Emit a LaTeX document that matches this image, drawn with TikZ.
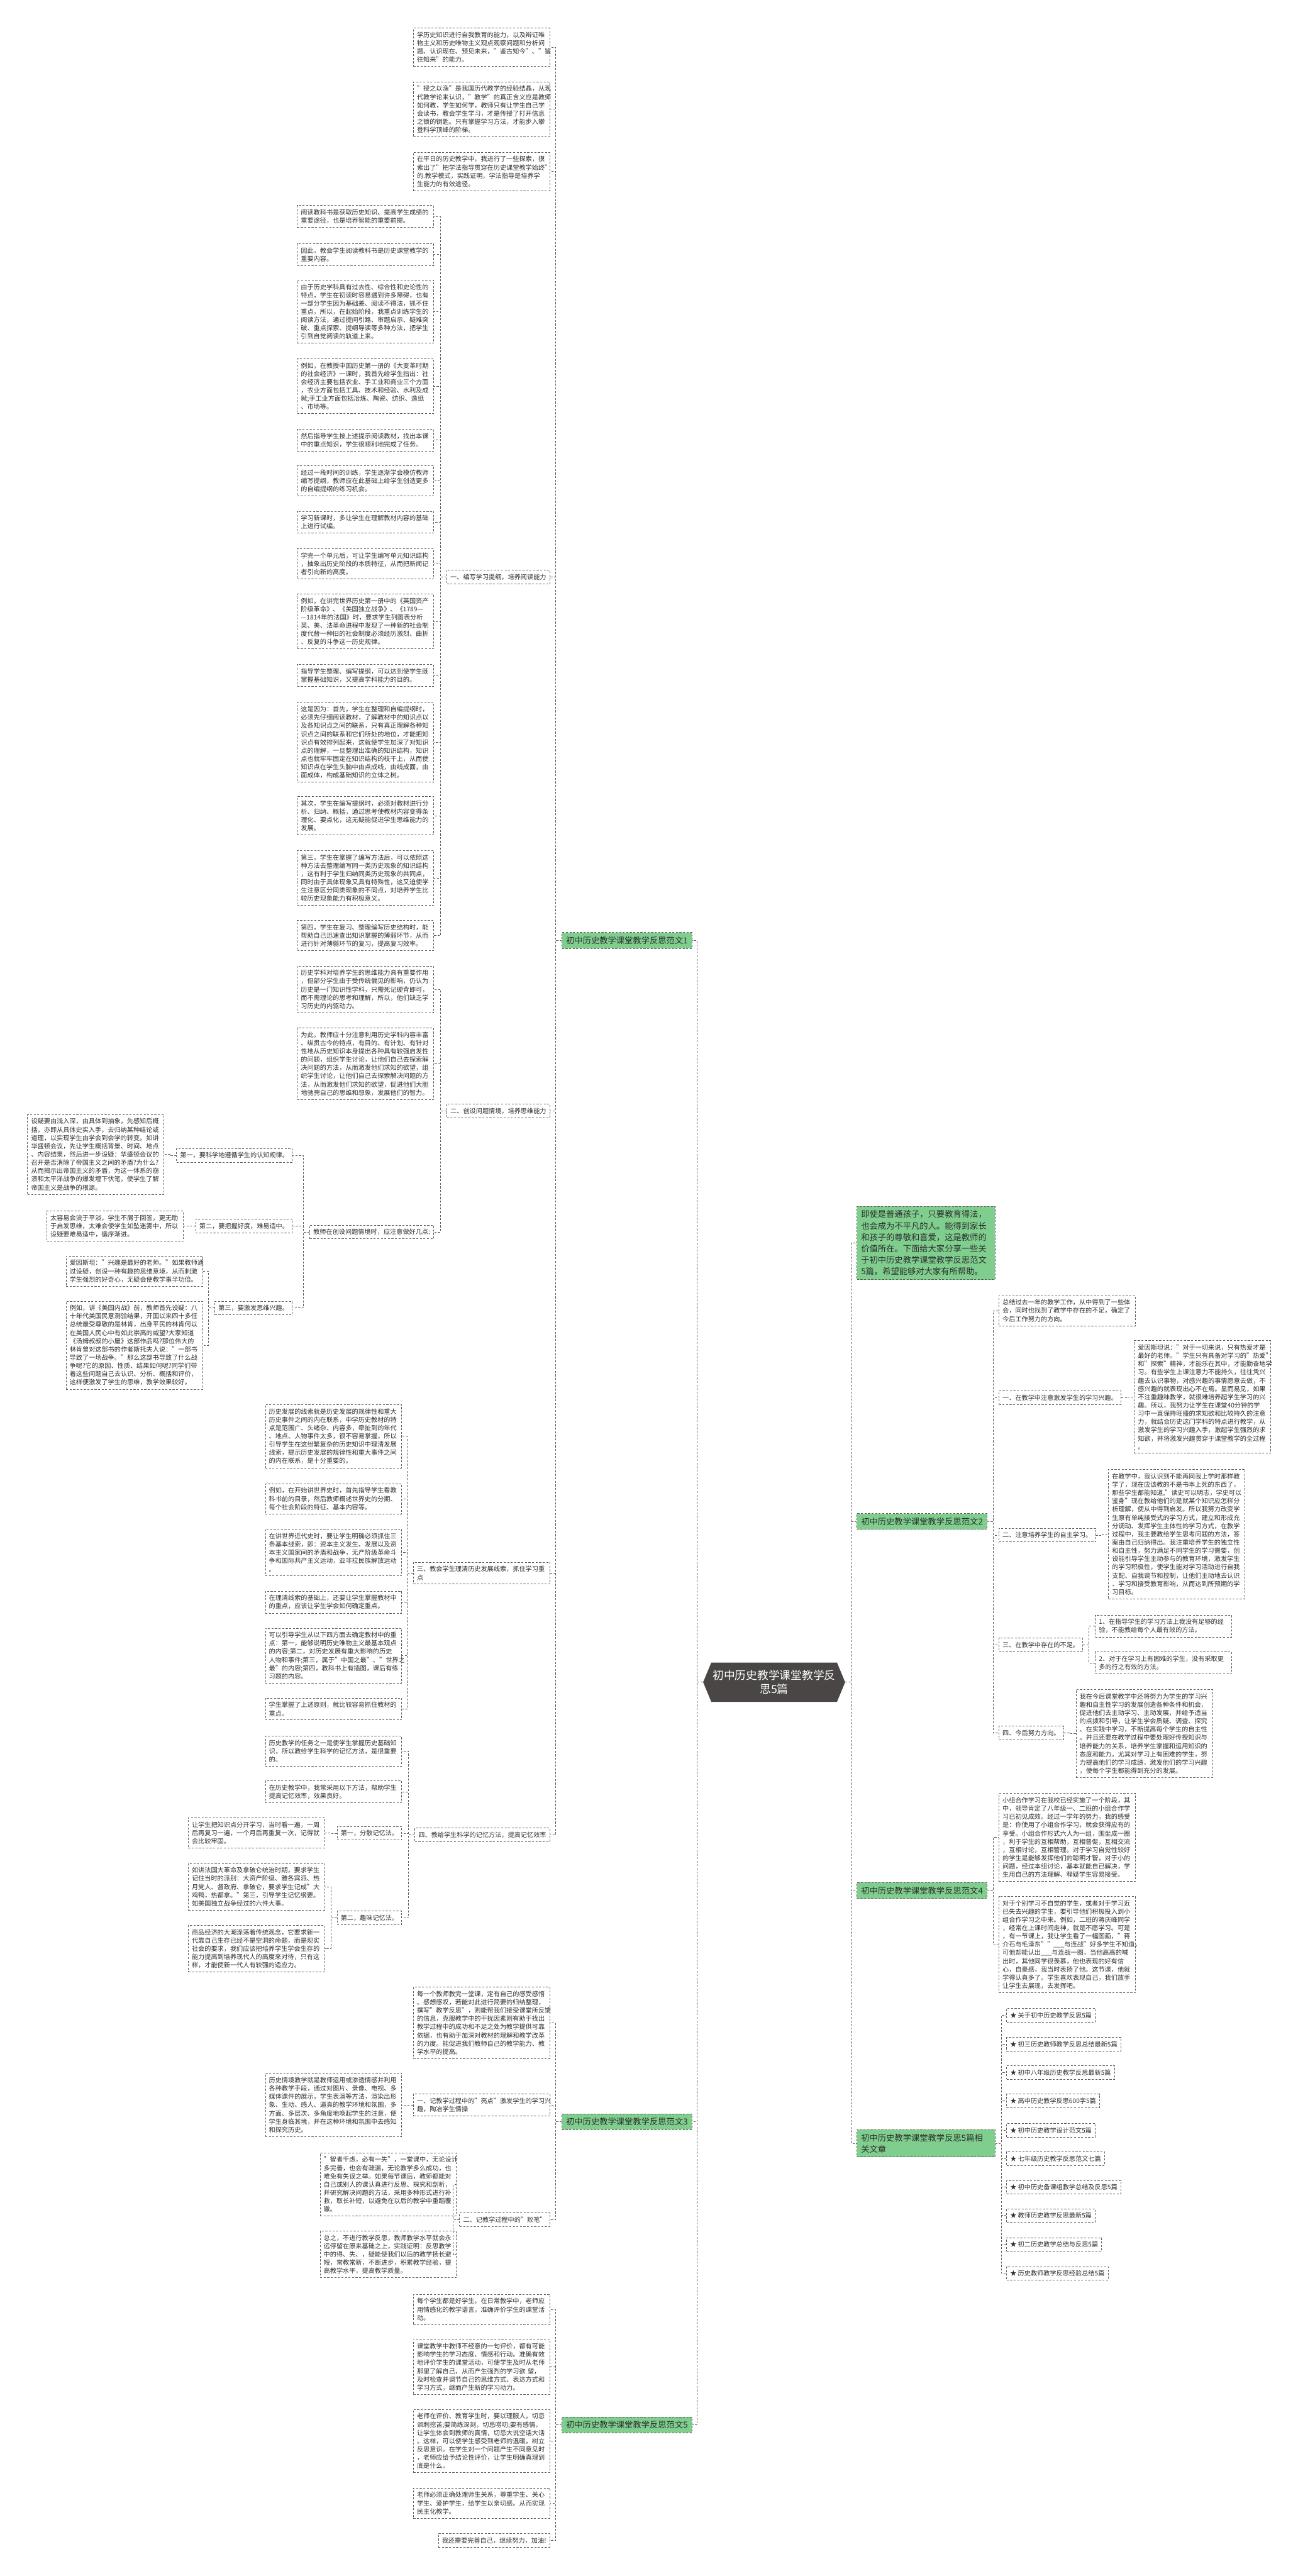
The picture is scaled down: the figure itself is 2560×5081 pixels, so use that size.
\documentclass[tikz,border=0pt]{standalone}
\usepackage{fontspec}
\setmainfont{Noto Sans CJK SC}
\usetikzlibrary{shapes.symbols}
\definecolor{trait}{RGB}{90,90,90}
\definecolor{vert}{RGB}{127,206,142}
\definecolor{racine}{RGB}{74,70,70}
\definecolor{encre}{RGB}{45,45,45}
\newcommand\corps{\fontsize{12.6}{16.3}\selectfont}
\newcommand\titre{\fontsize{16.5}{22.5}\selectfont}
\newcommand\grand{\fontsize{22}{27}\selectfont}
\tikzset{
  textbox/.style = {
    draw=trait, dash pattern=on 4pt off 3pt, line width=1.1pt, fill=white,
    text=encre, font=\corps, align=left, text width=#1,
    inner xsep=7pt, inner ysep=7.5pt
  },
  textbox/.default = 255pt,
  subtopic/.style = {
    draw=trait, dash pattern=on 4pt off 3pt, line width=1.1pt, fill=white,
    text=encre, font=\corps, align=left, inner xsep=7pt, inner ysep=7.5pt
  },
  branch/.style = {
    subtopic, fill=vert, font=\titre, inner xsep=8pt, inner ysep=8pt
  },
  rootnode/.style = {
    signal, signal to=east and west, signal pointer angle=135,
    fill=racine, text=white, font=\grand, align=center,
    inner xsep=3pt, inner ysep=15pt
  },
  link/.style = {
    draw=trait, dash pattern=on 4pt off 3pt, line width=1.1pt
  },
  link left/.style = {
    link, to path={(\tikztostart.west) -- ++(-12,0) |- (\tikztotarget.east)}
  },
  link right/.style = {
    link, to path={(\tikztostart.east) -- ++(12,0) |- (\tikztotarget.west)}
  }
}

\begin{document}
\begin{tikzpicture}[x=1pt, y=-1pt]
    \useasboundingbox (0,0) rectangle (2560,5081);
    \fill[white] (0,0) rectangle (2560,5081);
    % le noeud central
    \node[rootnode] (root) at (1527,3318) {初中历史教学课堂教学反\\思5篇};

    % les branches principales
    \node[branch, anchor=west] (fan1) at (1108,1855) {初中历史教学课堂教学反思范文1};
    \node[branch, anchor=west] (fan3) at (1108,4185) {初中历史教学课堂教学反思范文3};
    \node[branch, anchor=west] (fan5) at (1108,4783) {初中历史教学课堂教学反思范文5};
    \node[branch, anchor=north west, text width=256pt] (intro) at (1690,2379)
      {即使是普通孩子，只要教育得法，\\也会成为不平凡的人。能得到家长\\和孩子的尊敬和喜爱，这是教师的\\价值所在。下面给大家分享一些关\\于初中历史教学课堂教学反思范文\\5篇，希望能够对大家有所帮助。};
    \node[branch, anchor=west] (fan2) at (1690,3001) {初中历史教学课堂教学反思范文2};
    \node[branch, anchor=west] (fan4) at (1690,3729) {初中历史教学课堂教学反思范文4};
    \node[branch, anchor=north west, text width=256pt] (rel) at (1690,4200)
      {初中历史教学课堂教学反思5篇相\\关文章};

    %范文1
    \node[textbox, anchor=north east] (t1) at (1085,55)
      {学历史知识进行自我教育的能力，以及辩证唯\\物主义和历史唯物主义观点观察问题和分析问\\题、认识现在、预见未来，"鉴古知今"、"鉴\\往知来"的能力。};
    \node[textbox, anchor=north east] (t2) at (1085,161)
      {"授之以渔"是我国历代教学的经验结晶，从现\\代教学论来认识，"教学"的真正含义应是教师\\如何教，学生如何学，教师只有让学生自己学\\会读书，教会学生学习，才是传授了打开信息\\之锁的钥匙。只有掌握学习方法，才能步入攀\\登科学顶峰的阶梯。};
    \node[textbox, anchor=north east] (t3) at (1085,300)
      {在平日的历史教学中，我进行了一些探索，摸\\索出了"把学法指导贯穿在历史课堂教学始终"\\的.教学模式，实践证明，学法指导是培养学\\生能力的有效途径。};
    \node[subtopic, anchor=east] (h1) at (1085,1138) {一、编写学习提纲，培养阅读能力};
    \node[subtopic, anchor=east] (h2) at (1085,2191) {二、创设问题情境，培养思维能力};
    \node[textbox, anchor=north east] (h3) at (1085,3081)
      {三、教会学生理清历史发展线索，抓住学习重\\点};
    \node[subtopic, anchor=east] (h4) at (1085,3619) {四、教给学生科学的记忆方法，提高记忆效率};

    \node[textbox, anchor=north east] (a1) at (856,405)
      {阅读教科书是获取历史知识、提高学生成绩的\\重要途径，也是培养智能的重要前提。};
    \node[textbox, anchor=north east] (a2) at (856,480)
      {因此，教会学生阅读教科书是历史课堂教学的\\重要内容。};
    \node[textbox, anchor=north east] (a3) at (856,552)
      {由于历史学科具有过去性、综合性和史论性的\\特点，学生在初读时容易遇到许多障碍，也有\\一部分学生因为基础差、阅读不得法，抓不住\\重点，所以，在起始阶段，我重点训练学生的\\阅读方法，通过提问引路、审题启示、疑难突\\破、重点探索、提纲导读等多种方法，把学生\\引到自觉阅读的轨道上来。};
    \node[textbox, anchor=north east] (a4) at (856,707)
      {例如，在教授中国历史第一册的《大变革时期\\的社会经济》一课时，我首先给学生指出：社\\会经济主要包括农业、手工业和商业三个方面\\，农业方面包括工具、技术和经验、水利及成\\就;手工业方面包括冶炼、陶瓷、纺织、造纸\\、市场等。};
    \node[textbox, anchor=north east] (a5) at (856,846)
      {然后指导学生按上述提示阅读教材，找出本课\\中的重点知识，学生很顺利地完成了任务。};
    \node[textbox, anchor=north east] (a6) at (856,918)
      {经过一段时间的训练，学生逐渐学会模仿教师\\编写提纲，教师应在此基础上给学生创造更多\\的自编提纲的练习机会。};
    \node[textbox, anchor=north east] (a7) at (856,1008)
      {学习新课时，多让学生在理解教材内容的基础\\上进行试编。};
    \node[textbox, anchor=north east] (a8) at (856,1082)
      {学完一个单元后，可让学生编写单元知识结构\\，抽象出历史阶段的本质特征，从而把新闻记\\者引向新的高度。};
    \node[textbox, anchor=north east] (a9) at (856,1171)
      {例如，在讲完世界历史第一册中的《英国资产\\阶级革命》、《美国独立战争》、《1789—\\—1814年的法国》时，要求学生列图表分析\\英、美、法革命进程中发现了一种新的社会制\\度代替一种旧的社会制度必须经历激烈、曲折\\、反复的斗争这一历史规律。};
    \node[textbox, anchor=north east] (a10) at (856,1310)
      {指导学生整理、编写提纲，可以达到使学生既\\掌握基础知识，又提高学科能力的目的。};
    \node[textbox, anchor=north east] (a11) at (856,1385)
      {这是因为：首先，学生在整理和自编提纲时，\\必须先仔细阅读教材，了解教材中的知识点以\\及各知识点之间的联系，只有真正理解各种知\\识点之间的联系和它们所处的地位，才能把知\\识点有效排列起来，这就使学生加深了对知识\\点的理解，一旦整理出准确的知识结构，知识\\点也就牢牢固定在知识结构的枝干上，从而使\\知识点在学生头脑中由点成线，由线成面，由\\面成体，构成基础知识的立体之树。};
    \node[textbox, anchor=north east] (a12) at (856,1571)
      {其次，学生在编写提纲时，必须对教材进行分\\析、归纳、概括，通过思考使教材内容变得条\\理化、要点化，这无疑能促进学生思维能力的\\发展。};
    \node[textbox, anchor=north east] (a13) at (856,1677)
      {第三，学生在掌握了编写方法后，可以依照这\\种方法去整理编写同一类历史现象的知识结构\\，这有利于学生归纳同类历史现象的共同点，\\同时由于具体现象又具有特殊性，这又迫使学\\生注意区分同类现象的不同点，对培养学生比\\较历史现象能力有积极意义。};
    \node[textbox, anchor=north east] (a14) at (856,1815)
      {第四，学生在复习、整理编写历史结构时，能\\帮助自己迅速查出知识掌握的薄弱环节，从而\\进行针对薄弱环节的复习，提高复习效率。};

    \node[textbox, anchor=north east] (b1) at (856,1905)
      {历史学科对培养学生的思维能力具有重要作用\\，但部分学生由于受传统偏见的影响，仍认为\\历史是一门知识性学科，只需死记硬背即可，\\而不需理论的思考和理解，所以，他们缺乏学\\习历史的内驱动力。};
    \node[textbox, anchor=north east] (b2) at (856,2027)
      {为此，教师应十分注意利用历史学科内容丰富\\、纵贯古今的特点，有目的、有计划、有针对\\性地从历史知识本身提出各种具有较强启发性\\的问题，组织学生讨论，让他们自己去探索解\\决问题的方法，从而激发他们求知的欲望，组\\织学生讨论，让他们自己去探索解决问题的方\\法，从而激发他们求知的欲望，促进他们大胆\\地驰骋自己的思维和想象，发展他们的智力。};
    \node[subtopic, anchor=east] (b3) at (856,2430) {教师在创设问题情境时，应注意做好几点:};
    \node[subtopic, anchor=east] (s1) at (577,2279) {第一，要科学地遵循学生的认知规律。};
    \node[subtopic, anchor=east] (s2) at (577,2418) {第二，要把握好度，难易适中。};
    \node[subtopic, anchor=east] (s3) at (577,2580) {第三，要激发思维兴趣。};
    \node[textbox, anchor=north east] (s1a) at (324,2198)
      {设疑要由浅入深，由具体到抽象，先感知后概\\括，亦即从具体史实入手，去归纳某种结论或\\道理，以实现学生由学会到会学的转变。如讲\\华盛顿会议，先让学生概括背景、时间、地点\\、内容结果，然后进一步设疑：华盛顿会议的\\召开是否消除了帝国主义之间的矛盾?为什么?\\从而揭示出帝国主义的矛盾，为这一体系的崩\\溃和太平洋战争的爆发埋下伏笔，使学生了解\\帝国主义是战争的根源。};
    \node[textbox, anchor=north east] (s2a) at (362,2388)
      {太容易会流于平淡，学生不屑于回答，更无助\\于启发思维，太难会使学生如坠迷雾中，所以\\设疑要难易适中，循序渐进。};
    \node[textbox, anchor=north east] (s3a) at (400,2477)
      {爱因斯坦："兴趣是最好的老师。"如果教师通\\过设疑，创设一种有趣的思维意境，从而刺激\\学生强烈的好奇心，无疑会使教学事半功倍。};
    \node[textbox, anchor=north east] (s3b) at (400,2566)
      {例如，讲《美国内战》前，教师首先设疑：八\\十年代美国民意测验结果，开国以来四十多任\\总统最受尊敬的是林肯，出身平民的林肯何以\\在美国人民心中有如此崇高的威望?大家知道\\《汤姆叔叔的小屋》这部作品吗?那位伟大的\\林肯曾对这部书的作者斯托夫人说："一部书\\导致了一场战争。"那么这部书导致了什么战\\争呢?它的原因、性质、结果如何呢?同学们带\\着这些问题自己去认识、分析、概括和评价，\\这样便激发了学生的思维，教学效果较好。};

    \node[textbox, anchor=north east] (c1) at (793,2770)
      {历史发展的线索就是历史发展的规律性和重大\\历史事件之间的内在联系，中学历史教材的特\\点是范围广、头绪杂、内容多，牵扯到的年代\\、地点、人物事件太多，很不容易掌握，所以\\引导学生在这纷繁复杂的历史知识中理清发展\\线索，提示历史发展的规律性和重大事件之间\\的内在联系，是十分重要的。};
    \node[textbox, anchor=north east] (c2) at (793,2926)
      {例如，在开始讲世界史时，首先指导学生看教\\科书前的目录，然后教师概述世界史的分期、\\每个社会阶段的特征、基本内容等。};
    \node[textbox, anchor=north east] (c3) at (793,3016)
      {在讲世界近代史时，要让学生明确必须抓住三\\条基本线索，即：资本主义发生、发展以及资\\本主义国家间的矛盾和战争，无产阶级革命斗\\争和国际共产主义运动，亚非拉民族解放运动\\。};
    \node[textbox, anchor=north east] (c4) at (793,3138)
      {在理清线索的基础上，还要让学生掌握教材中\\的重点，应该让学生学会如何确定重点。};
    \node[textbox, anchor=north east] (c5) at (793,3211)
      {可以引导学生从以下四方面去确定教材中的重\\点：第一，能够说明历史唯物主义最基本观点\\的内容;第二，对历史发展有重大影响的历史\\人物和事件;第三，属于"中国之最"、"世界之\\最"的内容;第四，教科书上有插图，课后有练\\习题的内容。};
    \node[textbox, anchor=north east] (c6) at (793,3349)
      {学生掌握了上述原则，就比较容易抓住教材的\\重点。};

    \node[textbox, anchor=north east] (d1) at (793,3424)
      {历史教学的任务之一是使学生掌握历史基础知\\识，所以教给学生科学的记忆方法，是很重要\\的。};
    \node[textbox, anchor=north east] (d2) at (793,3512)
      {在历史教学中，我常采用以下方法，帮助学生\\提高记忆效率，效果良好。};
    \node[subtopic, anchor=east] (m1) at (793,3616) {第一，分散记忆法。};
    \node[subtopic, anchor=east] (m2) at (793,3783) {第二，趣味记忆法。};
    \node[textbox, anchor=north east] (m1a) at (641,3585)
      {让学生把知识点分开学习，当时看一遍，一周\\后再复习一遍，一个月后再重复一次，记得就\\会比较牢固。};
    \node[textbox, anchor=north east] (m2a) at (641,3675)
      {如讲法国大革命及拿破仑统治时期，要求学生\\记住当时的派别：大资产阶级、雅各宾派、热\\月党人、督政府、拿破仑，要求学生记成"大\\鸡鸭，热都拿。"第三，引导学生记忆纲要。\\如美国独立战争经过的六件大事。};
    \node[textbox, anchor=north east] (m2b) at (641,3797)
      {商品经济的大潮涤荡着传统观念，它要求新一\\代靠自己生存已经不是空洞的命题，而是现实\\社会的要求，我们应该把培养学生学会生存的\\能力提高到培养现代人的高度来对待，只有这\\样，才能使新一代人有较强的适应力。};

    % 范文3
    \node[textbox, anchor=north east] (g1) at (1085,3919)
      {每一个教师教完一堂课，定有自己的感受感悟\\、感想感叹，若能对此进行简要的归纳整理，\\撰写"教学反思"，则能帮我们接受课堂所反馈\\的信息，克服教学中的干扰因素则有助于找出\\教学过程中的成功和不足之处为教学提供可靠\\依据，也有助于加深对教材的理解和教学改革\\的力度。能促进我们教师自己的教学能力、教\\学水平的提高。};
    \node[textbox, anchor=north east] (g2) at (1085,4130)
      {一、记教学过程中的"亮点"激发学生的学习兴\\趣，陶冶学生情操};
    \node[subtopic, anchor=east] (g3) at (1085,4378) {二、记教学过程中的"败笔"};
    \node[textbox, anchor=north east] (g2a) at (793,4089)
      {历史情境教学就是教师运用或渗透情感并利用\\各种教学手段，通过对图片、录像、电视、多\\媒体课件的展示，学生表演等方法，渲染出形\\象、生动、感人、逼真的教学环境和氛围，多\\方面、多层次、多角度地唤起学生的注意，使\\学生身临其境，并在这种环境和氛围中去感知\\和探究历史。};
    \node[textbox, anchor=north east] (g3a) at (901,4246)
      {"智者千虑，必有一失"，一堂课中，无论设计\\多完善，也会有疏漏，无论教学多么成功，也\\难免有失误之举。如果每节课后，教师都能对\\自己或别人的课认真进行反思、探究和剖析，\\并研究解决问题的方法，采用多种形式进行补\\救，取长补短，以避免在以后的教学中重蹈覆\\辙。};
    \node[textbox, anchor=north east] (g3b) at (901,4400)
      {总之，不进行教学反思，教师教学水平就会永\\远停留在原来基础之上，实践证明：反思教学\\中的得、失、，疑能使我们以后的教学扬长避\\短，常教常新，不断进步，积累教学经验，提\\高教学水平，提高教学质量。};

    % 范文5
    \node[textbox, anchor=north east] (e1) at (1085,4525)
      {每个学生都是好学生。在日常教学中，老师应\\用情感化的教学语言，准确评价学生的课堂活\\动。};
    \node[textbox, anchor=north east] (e2) at (1085,4614)
      {课堂教学中教师不经意的一句评价，都有可能\\影响学生的学习态度、情感和行动。准确有效\\地评价学生的课堂活动，可使学生及时从老师\\那里了解自己，从而产生强烈的学习欲 望，\\及时检查并调节自己的思维方式、表达方式和\\学习方式，继而产生新的学习动力。};
    \node[textbox, anchor=north east] (e3) at (1085,4752)
      {老师在评价、教育学生时，要以理服人，切忌\\讽刺挖苦;要简练深刻，切忌唠叨;要有感情，\\让学生体会到教师的真情，切忌大说空话大话\\。这样，可以使学生感受到老师的温暖，树立\\反思意识。在学生对一个问题产生不同意见时\\，老师应给予结论性评价，让学生明确真理到\\底是什么。};
    \node[textbox, anchor=north east] (e4) at (1085,4907)
      {老师必须正确处理师生关系，尊重学生、关心\\学生、爱护学生，给学生以亲切感。从而实现\\民主化教学。};
    \node[subtopic, anchor=east] (e5) at (1085,5011) {我还需要完善自己，继续努力，加油!};

    % 范文2
    \node[textbox, anchor=north west] (k0) at (1970,2555)
      {总结过去一年的教学工作，从中得到了一些体\\会，同时也找到了教学中存在的不足，确定了\\今后工作努力的方向。};
    \node[subtopic, anchor=west] (k1) at (1970,2757) {一、在教学中注意激发学生的学习兴趣。};
    \node[subtopic, anchor=west] (k2) at (1970,3028) {二、注意培养学生的自主学习。};
    \node[subtopic, anchor=west] (k3) at (1970,3244) {三、在教学中存在的不足。};
    \node[subtopic, anchor=west] (k4) at (1970,3418) {四、今后努力方向。};
    \node[textbox, anchor=north west] (k1a) at (2237,2644)
      {爱因斯坦说："对于一切来说，只有热爱才是\\最好的老师。"学生只有具备对学习的"热爱"\\和"探索"精神，才能乐在其中，才能勤奋地学\\习。有些学生上课注意力不能持久，往往凭兴\\趣去认识事物，对感兴趣的事情愿意去做，不\\感兴趣的就表现出心不在焉。显而易见，如果\\不注重趣味教学，就很难培养起学生学习的兴\\趣。所以，我努力让学生在课堂40分钟的学\\习中一直保持旺盛的求知欲和比较持久的注意\\力，就结合历史这门学科的特点进行教学，从\\激发学生的学习兴趣入手，激起学生强烈的求\\知欲，并将激发兴趣贯穿于课堂教学的全过程\\。};
    \node[textbox, anchor=north west] (k2a) at (2186,2898)
      {在教学中，我认识到不能再同我上学时那样教\\学了，现在应该教的不是书本上死的东西了，\\那些学生都能知道,"读史可以明志，学史可以\\鉴身"现在教给他们的是就某个知识应怎样分\\析理解，使从中得到启发。所以我努力改变学\\生原有单纯接受式的学习方式，建立和形成充\\分调动、发挥学生主体性的学习方式，在教学\\过程中，我主要教给学生思考问题的方法，答\\案由自己归纳得出。我注重培养学生的独立性\\和自主性，努力满足不同学生的学习需要，创\\设能引导学生主动参与的教育环境，激发学生\\的学习积极性，使学生能对学习活动进行自我\\支配、自我调节和控制，让他们主动地去认识\\、学习和接受教育影响，从而达到所预期的学\\习目标。};
    \node[textbox, anchor=north west] (k3a) at (2160,3185)
      {1、在指导学生的学习方法上我没有足够的经\\验，不能教给每个人最有效的方法。};
    \node[textbox, anchor=north west] (k3b) at (2160,3258)
      {2、对于在学习上有困难的学生，没有采取更\\多的行之有效的方法。};
    \node[textbox, anchor=north west] (k4a) at (2122,3332)
      {我在今后课堂教学中还将努力为学生的学习兴\\趣和自主性学习的发展创造各种条件和机会，\\促进他们去主动学习、主动发展，并给予适当\\的点拨和引导，让学生学会质疑、调查、探究\\、在实践中学习，不断提高每个学生的自主性\\。并且还要在教学过程中要处理好传授知识与\\培养能力的关系，培养学生掌握和运用知识的\\态度和能力，尤其对学习上有困难的学生，努\\力提高他们的学习成绩，激发他们的学习兴趣\\，使每个学生都能得到充分的发展。};

    % 范文4
    \node[textbox, anchor=north west] (n1) at (1970,3537)
      {小组合作学习在我校已经实施了一个阶段，其\\中，领导肯定了八年级一、二班的小组合作学\\习已初见成效。经过一学年的努力，我的感受\\是：你使用了小组合作学习，就会获得应有的\\享受。小组合作形式六人为一组，围坐成一圈\\，利于学生的互相帮助，互相督促，互相交流\\，互相讨论，互相管理。对于学习自觉性较好\\的学生是能够发挥他们的聪明才智，对于小的\\问题，经过本组讨论，基本就能自已解决，学\\生用自己的方法理解、释疑学生容易接受。};
    \node[textbox, anchor=north west] (n2) at (1970,3740)
      {对于个别学习不自觉的学生，或者对于学习近\\已失去兴趣的学生，要引导他们积极投入到小\\组合作学习之中来。例如，二班的蒋庆峰同学\\，经常在上课时间走神，就是不愿学习。可是\\，有一节课上，我让学生看了一幅图画，"蒋\\介石与毛泽东""\_\_\_与连战"好多学生不知道，\\可他却能认出\_\_\_与连战一图，当他高高的喊\\出时，其他同学很羡慕，他也表现的好有信\\心，自豪感，我当时表扬了他。这节课，他就\\学得认真多了。学生喜欢表现自己，我们放手\\让学生去展现，去发挥吧。};

    % les articles liés
    \node[subtopic, anchor=west] (r1) at (1985,3975) {★ 关于初中历史教学反思5篇};
    \node[subtopic, anchor=west] (r2) at (1985,4032) {★ 初三历史教师教学反思总结最新5篇};
    \node[subtopic, anchor=west] (r3) at (1985,4088) {★ 初中八年级历史教学反思最新5篇};
    \node[subtopic, anchor=west] (r4) at (1985,4144) {★ 高中历史教学反思600字5篇};
    \node[subtopic, anchor=west] (r5) at (1985,4202) {★ 初中历史教学设计范文5篇};
    \node[subtopic, anchor=west] (r6) at (1985,4258) {★ 七年级历史教学反思范文七篇};
    \node[subtopic, anchor=west] (r7) at (1985,4314) {★ 初中历史备课组教学总结及反思5篇};
    \node[subtopic, anchor=west] (r8) at (1985,4370) {★ 教师历史教学反思最新5篇};
    \node[subtopic, anchor=west] (r9) at (1985,4427) {★ 初二历史教学总结与反思5篇};
    \node[subtopic, anchor=west] (r10) at (1985,4484) {★ 历史教师教学反思经验总结5篇};

    % les liens
    \path
      (root) edge[link left] (fan1) edge[link left] (fan3) edge[link left] (fan5)
      (root) edge[link right] (intro) edge[link right] (fan2)
             edge[link right] (fan4) edge[link right] (rel)
    ;
    \path
      (fan1) edge[link left] (t1) edge[link left] (t2) edge[link left] (t3)
             edge[link left] (h1) edge[link left] (h2) edge[link left] (h3)
             edge[link left] (h4)
      (h1) edge[link left] (a1) edge[link left] (a2) edge[link left] (a3)
           edge[link left] (a4) edge[link left] (a5) edge[link left] (a6)
           edge[link left] (a7) edge[link left] (a8) edge[link left] (a9)
           edge[link left] (a10) edge[link left] (a11) edge[link left] (a12)
           edge[link left] (a13) edge[link left] (a14)
      (h2) edge[link left] (b1) edge[link left] (b2) edge[link left] (b3)
      (b3) edge[link left] (s1) edge[link left] (s2) edge[link left] (s3)
      (s1) edge[link left] (s1a)
      (s2) edge[link left] (s2a)
      (s3) edge[link left] (s3a) edge[link left] (s3b)
      (h3) edge[link left] (c1) edge[link left] (c2) edge[link left] (c3)
           edge[link left] (c4) edge[link left] (c5) edge[link left] (c6)
      (h4) edge[link left] (d1) edge[link left] (d2)
           edge[link left] (m1) edge[link left] (m2)
      (m1) edge[link left] (m1a)
      (m2) edge[link left] (m2a) edge[link left] (m2b)
    ;
    \path
      (fan3) edge[link left] (g1) edge[link left] (g2) edge[link left] (g3)
      (g2) edge[link left] (g2a)
      (g3) edge[link left] (g3a) edge[link left] (g3b)
      (fan5) edge[link left] (e1) edge[link left] (e2) edge[link left] (e3)
             edge[link left] (e4) edge[link left] (e5)
    ;
    \path
      (fan2) edge[link right] (k0) edge[link right] (k1) edge[link right] (k2)
             edge[link right] (k3) edge[link right] (k4)
      (k1) edge[link right] (k1a)
      (k2) edge[link right] (k2a)
      (k3) edge[link right] (k3a) edge[link right] (k3b)
      (k4) edge[link right] (k4a)
      (fan4) edge[link right] (n1) edge[link right] (n2)
      (rel) edge[link right] (r1) edge[link right] (r2) edge[link right] (r3)
            edge[link right] (r4) edge[link right] (r5) edge[link right] (r6)
            edge[link right] (r7) edge[link right] (r8) edge[link right] (r9)
            edge[link right] (r10)
    ;
\end{tikzpicture}
\end{document}
